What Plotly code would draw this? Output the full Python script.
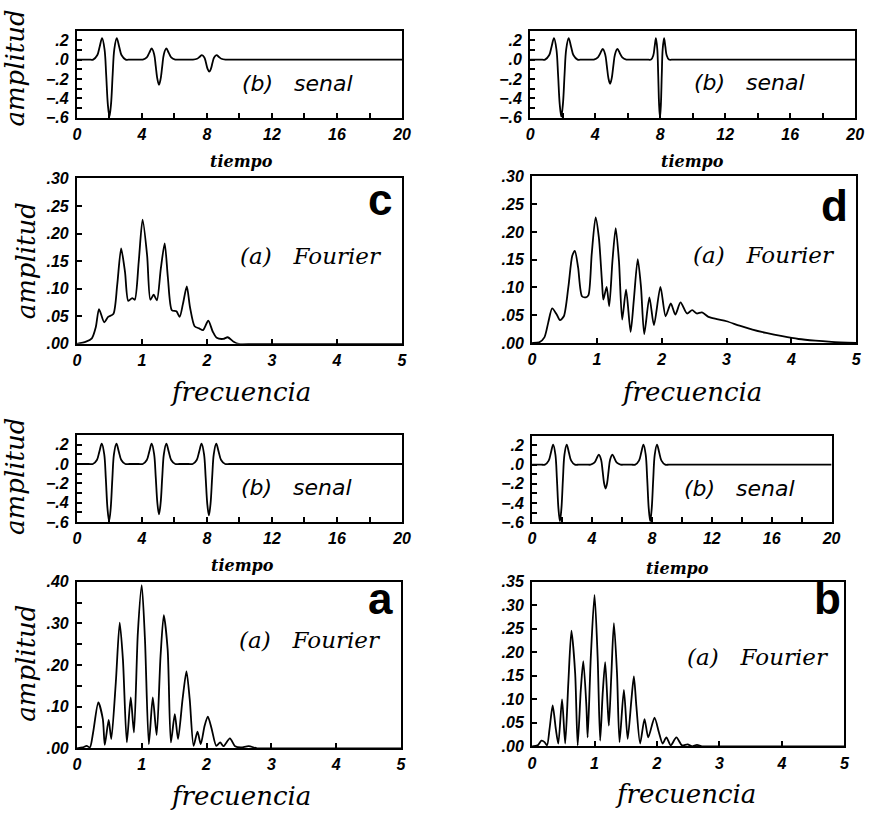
import plotly.graph_objects as go

W, H = 879, 818

# ---------------- time signals (tiempo vs amplitud) ----------------
sig_c_t = [0, 0.5, 0.75, 1.0, 1.25, 1.4, 1.55, 1.7, 1.8, 1.9, 2.0, 2.1, 2.2, 2.3, 2.45, 2.6, 2.75, 3.0, 3.25, 3.5,
           3.55, 3.8, 4.05, 4.3, 4.45, 4.6, 4.75, 4.85, 4.95, 5.05, 5.15, 5.25, 5.35, 5.5, 5.65, 5.8, 6.05, 6.3, 6.6,
           6.64, 6.89, 7.14, 7.39, 7.54, 7.69, 7.84, 7.94, 8.04, 8.14, 8.24, 8.34, 8.44, 8.59, 8.74, 8.89, 9.14,
           9.39, 9.7, 12, 16, 20]
sig_c_y = [0, 0, 0, 0, 0.044, 0.133, 0.22, 0.106, -0.154, -0.457, -0.59, -0.457, -0.154, 0.106, 0.22, 0.133, 0.044, 0, 0, 0,
           0, 0, 0, 0.023, 0.069, 0.115, 0.056, -0.068, -0.2, -0.26, -0.2, -0.068, 0.056, 0.115, 0.069, 0.023, 0, 0, 0,
           0, 0, 0, 0.009, 0.027, 0.045, 0.022, -0.033, -0.097, -0.125, -0.097, -0.033, 0.022, 0.045, 0.027, 0.009, 0,
           0, 0, 0, 0, 0]

sig_d_t = [0, 0.4, 0.67, 0.92, 1.17, 1.32, 1.47, 1.62, 1.72, 1.82, 1.92, 2.02, 2.12, 2.22, 2.37, 2.52, 2.67, 2.92, 3.17, 3.4,
           3.45, 3.67, 3.92, 4.17, 4.32, 4.47, 4.62, 4.72, 4.82, 4.92, 5.02, 5.12, 5.22, 5.37, 5.52, 5.67, 5.92, 6.17, 6.5,
           6.9, 7.2, 7.44, 7.58, 7.66, 7.74, 7.825, 7.88, 7.935, 7.99, 8.045, 8.10, 8.155, 8.24, 8.32, 8.40, 8.54,
           8.8, 9.1, 12, 16, 20]
sig_d_y = [0, 0, 0, 0, 0.044, 0.133, 0.22, 0.106, -0.154, -0.457, -0.59, -0.457, -0.154, 0.106, 0.22, 0.133, 0.044, 0, 0, 0,
           0, 0, 0, 0.022, 0.066, 0.11, 0.053, -0.065, -0.194, -0.25, -0.194, -0.065, 0.053, 0.11, 0.066, 0.022, 0, 0, 0,
           0, 0, 0, 0.044, 0.133, 0.22, 0.106, -0.157, -0.465, -0.6, -0.465, -0.157, 0.106, 0.22, 0.133, 0.044, 0,
           0, 0, 0, 0, 0]

sig_a_t = [0, 0.45, 0.73, 0.98, 1.23, 1.38, 1.53, 1.68, 1.78, 1.88, 1.98, 2.08, 2.18, 2.28, 2.43, 2.58, 2.73, 2.98, 3.23, 3.5,
           3.55, 3.8, 4.05, 4.3, 4.45, 4.6, 4.75, 4.85, 4.95, 5.05, 5.15, 5.25, 5.35, 5.5, 5.65, 5.8, 6.05, 6.3, 6.6,
           6.62, 6.87, 7.12, 7.37, 7.52, 7.67, 7.82, 7.92, 8.02, 8.12, 8.22, 8.32, 8.42, 8.57, 8.72, 8.87, 9.12,
           9.37, 9.7, 12, 16, 20]
sig_a_y = [0, 0, 0, 0, 0.042, 0.127, 0.21, 0.101, -0.154, -0.457, -0.59, -0.457, -0.154, 0.101, 0.21, 0.127, 0.042, 0, 0, 0,
           0, 0, 0, 0.042, 0.127, 0.21, 0.101, -0.136, -0.403, -0.52, -0.403, -0.136, 0.101, 0.21, 0.127, 0.042, 0, 0, 0,
           0, 0, 0, 0.042, 0.127, 0.21, 0.101, -0.138, -0.411, -0.53, -0.411, -0.138, 0.101, 0.21, 0.127, 0.042, 0,
           0, 0, 0, 0, 0]

sig_b_t = [0, 0.35, 0.61, 0.86, 1.11, 1.26, 1.41, 1.56, 1.66, 1.76, 1.86, 1.96, 2.06, 2.16, 2.31, 2.46, 2.61, 2.86, 3.11, 3.35,
           3.4, 3.66, 3.91, 4.16, 4.31, 4.46, 4.61, 4.71, 4.81, 4.91, 5.01, 5.11, 5.21, 5.36, 5.51, 5.66, 5.91, 6.16, 6.35,
           6.4, 6.64, 6.89, 7.14, 7.29, 7.44, 7.59, 7.69, 7.79, 7.89, 7.99, 8.09, 8.19, 8.34, 8.49, 8.64, 8.89,
           9.14, 9.5, 12, 16, 20]
sig_b_y = [0, 0, 0, 0, 0.042, 0.127, 0.21, 0.101, -0.154, -0.457, -0.59, -0.457, -0.154, 0.101, 0.21, 0.127, 0.042, 0, 0, 0,
           0, 0, 0, 0.021, 0.063, 0.105, 0.051, -0.065, -0.194, -0.25, -0.194, -0.065, 0.051, 0.105, 0.063, 0.021, 0, 0, 0,
           0, 0, 0, 0.042, 0.127, 0.21, 0.101, -0.154, -0.457, -0.59, -0.457, -0.154, 0.101, 0.21, 0.127, 0.042, 0,
           0, 0, 0, 0, 0]

# ---------------- Fourier spectra (frecuencia vs amplitud) ----------------
four_c_f = [0, 0.14, 0.23, 0.29, 0.34, 0.42, 0.48, 0.56, 0.62, 0.68, 0.74, 0.79, 0.85, 0.89, 0.95,
            1.01, 1.08, 1.13, 1.18, 1.23, 1.29, 1.35, 1.40, 1.46, 1.53, 1.58, 1.63, 1.69, 1.74,
            1.81, 1.88, 1.94, 2.02, 2.09, 2.15, 2.25, 2.32, 2.41, 2.49, 2.7, 3.0, 4.0, 5.0]
four_c_a = [0, 0.004, 0.01, 0.03, 0.063, 0.039, 0.049, 0.054, 0.107, 0.173, 0.13, 0.078, 0.083, 0.08, 0.148,
            0.225, 0.16, 0.08, 0.089, 0.079, 0.136, 0.182, 0.119, 0.061, 0.059, 0.049, 0.072, 0.104, 0.066,
            0.032, 0.028, 0.025, 0.042, 0.022, 0.011, 0.009, 0.012, 0.004, 0.0, 0.0, 0.0, 0.0, 0.0]

four_d_f = [0, 0.11, 0.19, 0.25, 0.31, 0.38, 0.43, 0.49, 0.56, 0.62, 0.66, 0.71, 0.77, 0.83, 0.87,
            0.92, 0.98, 1.03, 1.08, 1.10, 1.15, 1.19, 1.24, 1.29, 1.34, 1.39, 1.45, 1.52, 1.57,
            1.63, 1.68, 1.73, 1.81, 1.88, 1.98, 2.06, 2.14, 2.21, 2.29, 2.39, 2.47, 2.54, 2.62,
            2.72, 2.85, 3.0, 3.2, 3.4, 3.61, 3.86, 4.11, 4.37, 4.62, 5.0]
four_d_a = [0, 0.001, 0.01, 0.037, 0.062, 0.051, 0.041, 0.048, 0.101, 0.157, 0.166, 0.136, 0.084, 0.082, 0.086,
            0.16, 0.226, 0.19, 0.107, 0.078, 0.101, 0.066, 0.148, 0.207, 0.148, 0.042, 0.096, 0.02, 0.078,
            0.151, 0.101, 0.016, 0.082, 0.032, 0.101, 0.048, 0.071, 0.051, 0.073, 0.053, 0.059, 0.053, 0.055,
            0.047, 0.043, 0.039, 0.031, 0.024, 0.018, 0.012, 0.007, 0.004, 0.002, 0.0]

four_a_f = [0, 0.09, 0.15, 0.20, 0.25, 0.33, 0.40, 0.43, 0.49, 0.53, 0.60, 0.66, 0.71, 0.77, 0.83,
            0.88, 0.94, 1.0, 1.05, 1.11, 1.17, 1.23, 1.29, 1.34, 1.40, 1.45, 1.51, 1.56, 1.63,
            1.69, 1.74, 1.80, 1.86, 1.91, 1.97, 2.02, 2.08, 2.15, 2.21, 2.26, 2.36, 2.44, 2.53,
            2.65, 2.78, 3.0, 4.0, 5.0]
four_a_a = [0, 0.002, 0.006, 0.002, 0.038, 0.11, 0.07, 0.008, 0.068, 0.022, 0.158, 0.302, 0.213, 0.014, 0.122,
            0.038, 0.277, 0.392, 0.261, 0.01, 0.122, 0.032, 0.221, 0.32, 0.237, 0.014, 0.082, 0.022, 0.118,
            0.185, 0.118, 0.006, 0.04, 0.01, 0.054, 0.076, 0.046, 0.006, 0.014, 0.005, 0.024, 0.005, 0.002,
            0.005, 0.0, 0.0, 0.0, 0.0]

four_b_f = [0, 0.09, 0.15, 0.20, 0.24, 0.28, 0.33, 0.38, 0.42, 0.48, 0.53, 0.58, 0.63, 0.69, 0.73,
            0.78, 0.82, 0.87, 0.89, 0.94, 1.0, 1.05, 1.09, 1.13, 1.17, 1.21, 1.23, 1.27, 1.31,
            1.36, 1.40, 1.47, 1.53, 1.59, 1.63, 1.67, 1.73, 1.80, 1.86, 1.96, 2.03, 2.09, 2.15,
            2.22, 2.31, 2.40, 2.49, 2.56, 2.64, 2.72, 2.9, 3.5, 5.0]
four_b_a = [0, 0.002, 0.012, 0.009, 0.002, 0.037, 0.087, 0.037, 0.006, 0.10, 0.006, 0.134, 0.246, 0.155, 0.002,
            0.12, 0.181, 0.085, 0.019, 0.189, 0.322, 0.189, 0.012, 0.111, 0.179, 0.085, 0.044, 0.155, 0.262,
            0.155, 0.009, 0.12, 0.016, 0.099, 0.149, 0.085, 0.006, 0.058, 0.019, 0.061, 0.03, 0.006, 0.019,
            0.002, 0.019, 0.002, 0.004, 0.0, 0.003, 0.0, 0.0, 0.0, 0.0]

# ---------------- tick labels ----------------
sig_x_ticks = [0, 4, 8, 12, 16, 20]
sig_x_minor = [2, 6, 10, 14, 18]
sig_y_ticks = [0.2, 0.0, -0.2, -0.4, -0.6]
sig_y_text = [".2", ".0", "\u2212.2", "\u2212.4", "\u2212.6"]
sig_y_minor = [0.1, -0.1, -0.3, -0.5]

four_x_ticks = [0, 1, 2, 3, 4, 5]
four_y30_ticks = [0, 0.05, 0.10, 0.15, 0.20, 0.25, 0.30]
four_y30_text = [".00", ".05", ".10", ".15", ".20", ".25", ".30"]
four_y40_ticks = [0, 0.10, 0.20, 0.30, 0.40]
four_y40_text = [".00", ".10", ".20", ".30", ".40"]
four_y40_minor = [0.05, 0.15, 0.25, 0.35]
four_y35_ticks = [0, 0.05, 0.10, 0.15, 0.20, 0.25, 0.30, 0.35]
four_y35_text = [".00", ".05", ".10", ".15", ".20", ".25", ".30", ".35"]

panel_letters = ["c", "d", "a", "b"]

TICKFONT = dict(family="Liberation Sans", size=16, color="black", weight="bold", style="italic")


def px_x(x):
    return x / W


def px_y(y):
    return 1 - y / H


fig = go.Figure()
layout = {}

# (x data, y data, box pixels l,t,r,b, x ticks, x minor, x range, y ticks, y text, y minor, y range, smoothing)
panels = [
    (sig_c_t, sig_c_y, (74, 23, 404, 112), sig_x_ticks, sig_x_minor, [0, 20], sig_y_ticks, sig_y_text, sig_y_minor, [-0.6, 0.3], 1.0),
    (four_c_f, four_c_a, (74, 174, 404, 343), four_x_ticks, [], [0, 5], four_y30_ticks, four_y30_text, [], [0, 0.30], 0.7),
    (sig_d_t, sig_d_y, (534, 23, 864, 112), sig_x_ticks, sig_x_minor, [0, 20], sig_y_ticks, sig_y_text, sig_y_minor, [-0.6, 0.3], 1.0),
    (four_d_f, four_d_a, (536, 172, 865, 342), four_x_ticks, [], [0, 5], four_y30_ticks, four_y30_text, [], [0, 0.30], 0.7),
    (sig_a_t, sig_a_y, (74, 436, 404, 525), sig_x_ticks, sig_x_minor, [0, 20], sig_y_ticks, sig_y_text, sig_y_minor, [-0.6, 0.3], 1.0),
    (four_a_f, four_a_a, (74, 586, 403, 756), four_x_ticks, [], [0, 5], four_y40_ticks, four_y40_text, four_y40_minor, [0, 0.40], 0.7),
    (sig_b_t, sig_b_y, (536, 437, 840, 525), sig_x_ticks, sig_x_minor, [0, 20], sig_y_ticks, sig_y_text, sig_y_minor, [-0.6, 0.3], 1.0),
    (four_b_f, four_b_a, (536, 586, 853, 754), four_x_ticks, [], [0, 5], four_y35_ticks, four_y35_text, [], [0, 0.35], 0.7),
]

for i, (xs, ys, box, xt, xm, xr, yt, ytx, ym, yr, smooth) in enumerate(panels, start=1):
    l, t, r, b = box
    sfx = "" if i == 1 else str(i)
    fig.add_trace(go.Scatter(x=xs, y=ys, mode="lines",
                             line=dict(color="black", width=1.8, shape="spline", smoothing=smooth),
                             xaxis="x" + sfx, yaxis="y" + sfx, showlegend=False, hoverinfo="skip"))
    layout["xaxis" + sfx] = dict(
        domain=[px_x(l), px_x(r)], anchor="y" + sfx, range=xr,
        showline=True, mirror=True, linecolor="black", linewidth=2,
        showgrid=False, zeroline=False,
        tickmode="array", tickvals=xt, ticktext=[str(v) for v in xt],
        ticks="inside", ticklen=5, tickwidth=1.5, tickcolor="black",
        tickfont=TICKFONT, ticklabelstandoff=1,
        minor=dict(tickmode="array", tickvals=xm, ticks="inside", ticklen=5,
                   tickwidth=1.5, tickcolor="black") if xm else dict(ticks=""),
    )
    layout["yaxis" + sfx] = dict(
        domain=[px_y(b), px_y(t)], anchor="x" + sfx, range=yr,
        showline=True, mirror=True, linecolor="black", linewidth=2,
        showgrid=False, zeroline=False,
        tickmode="array", tickvals=yt, ticktext=ytx,
        ticks="inside", ticklen=5, tickwidth=1.5, tickcolor="black",
        tickfont=TICKFONT, ticklabelstandoff=3,
        minor=dict(tickmode="array", tickvals=ym, ticks="inside", ticklen=5,
                   tickwidth=1.5, tickcolor="black") if ym else dict(ticks=""),
    )

annotations = []


def note(text, x, y, family, size, weight="normal", style="normal", angle=0):
    annotations.append(dict(
        text=text, x=px_x(x), y=px_y(y), xref="paper", yref="paper",
        xanchor="center", yanchor="middle", showarrow=False, textangle=angle,
        font=dict(family=family, size=size, color="black", weight=weight, style=style),
    ))


# captions inside each box
for x, y in [(298, 77), (757, 76), (297, 490), (747, 491)]:
    note("(b)\u00a0\u00a0\u00a0senal", x, y, "DejaVu Sans", 22, style="italic")
for x, y in [(312, 253), (771, 252), (311, 645), (765, 663)]:
    note("(a)\u00a0\u00a0\u00a0Fourier", x, y, "DejaVu Serif", 23, style="italic")

# time axis titles
for x, y in [(241, 157), (699, 157), (242, 569), (684, 572)]:
    note("tiempo", x, y, "DejaVu Serif", 16, weight="bold", style="italic")

# frequency axis titles
for x, y in [(240, 392), (698, 392), (240, 805), (692, 803)]:
    note("frecuencia", x, y, "DejaVu Serif", 26, style="italic")

# amplitude titles on the left column
for x, y in [(11, 61), (22, 258), (11, 478), (22, 669)]:
    note("amplitud", x, y, "DejaVu Serif", 26, style="italic", angle=-90)

# panel letters
for letter, (x, y) in zip(panel_letters, [(382, 196), (843, 202), (382, 603), (836, 603)]):
    note(letter, x, y, "Liberation Sans", 44, weight="bold")

fig.update_layout(
    width=W, height=H,
    margin=dict(l=0, r=0, t=0, b=0),
    paper_bgcolor="white", plot_bgcolor="white",
    annotations=annotations,
    **layout,
)

fig.write_html("out.html")
